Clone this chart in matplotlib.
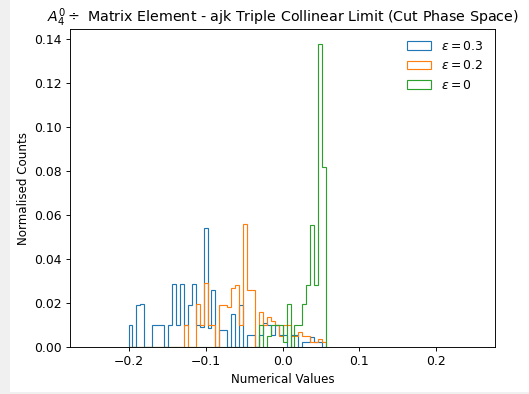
import numpy as np
import matplotlib
matplotlib.use('Agg')
import matplotlib.pyplot as plt
from matplotlib.patches import Rectangle

# 50 common bins from -0.2 to ~0.0566
bin_edges = np.linspace(-0.2, 0.0566, 51)

# normalised counts per bin
eps_03 = [0.0098, 0, 0.0190, 0.0197, 0, 0, 0.0098, 0.0098, 0.0098, 0,
          0.0098, 0.0285, 0.0098, 0.0288, 0.0098, 0.0190, 0.0285, 0.0098, 0.0090, 0.0540,
          0.0087, 0.0260, 0, 0.0077, 0.0077, 0, 0.0148, 0, 0.0190, 0,
          0.0053, 0.0053, 0, 0.0053, 0.0110, 0.0098, 0.0053, 0.0098, 0.0053, 0.0053,
          0, 0.0053, 0.0053, 0, 0.0024, 0.0024, 0.0045, 0.0024, 0.0024, 0]
eps_02 = [0, 0, 0, 0, 0, 0, 0, 0, 0, 0,
          0, 0, 0, 0, 0.0098, 0, 0, 0.0197, 0.0098, 0.0290,
          0.0098, 0.0098, 0, 0.0190, 0.0190, 0.0180, 0.0270, 0.0280, 0.0098, 0.0560,
          0.0260, 0.0260, 0, 0.0157, 0.0098, 0.0138, 0.0117, 0.0102, 0.0049, 0.0098,
          0.0098, 0.0049, 0.0049, 0.0069, 0.0049, 0.0049, 0.0024, 0.0024, 0.0036, 0.0024]
eps_0 = [0, 0, 0, 0, 0, 0, 0, 0, 0, 0,
         0, 0, 0, 0, 0, 0, 0, 0, 0, 0,
         0, 0, 0, 0, 0, 0, 0, 0, 0, 0,
         0, 0, 0, 0.0098, 0, 0.0049, 0.0098, 0.0098, 0.0098, 0.0024,
         0.0197, 0, 0.0098, 0.0098, 0.0197, 0.0280, 0.0555, 0.0280, 0.1376, 0.0820]

series = [eps_03, eps_02, eps_0]
labels = [r'$\epsilon = 0.3$', r'$\epsilon = 0.2$', r'$\epsilon = 0$']

centres = 0.5 * (bin_edges[:-1] + bin_edges[1:])

fig = plt.figure(figsize=(529 / 82.66, 394 / 82.66), dpi=82.66, facecolor='#f0f0f0')
# white canvas with a thin grey border on the left and bottom
fig.patches.append(Rectangle((10 / 529, 2 / 394), 1, 1, transform=fig.transFigure,
                             facecolor='white', edgecolor='none', zorder=-1))

ax = fig.add_axes([70 / 529, 1 - 347 / 394, 425 / 529, 318 / 394])
for vals, lab in zip(series, labels):
    ax.hist(centres, bins=bin_edges, weights=vals, histtype='step', label=lab)

ax.set_xlim(-0.276, 0.276)
ax.tick_params(labelsize=10.8)
ax.set_title(r'$A_4^0 \div$ Matrix Element - ajk Triple Collinear Limit (Cut Phase Space)',
             fontsize=12.4)
ax.set_xlabel('Numerical Values', fontsize=10.3)
ax.set_ylabel('Normalised Counts', fontsize=10.3)
ax.legend(frameon=False, loc='upper right', fontsize=10.8)

fig.savefig('out.png', dpi=82.66, facecolor=fig.get_facecolor())
